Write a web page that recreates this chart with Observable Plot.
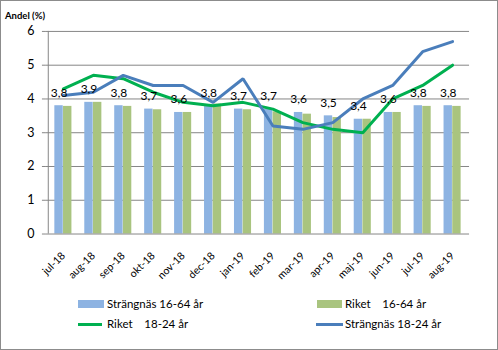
<!DOCTYPE html>
<html><head><meta charset="utf-8">
<script src="https://cdn.jsdelivr.net/npm/d3@7"></script>
<script src="https://cdn.jsdelivr.net/npm/@observablehq/plot@0.6"></script>
<style>
body{margin:0;background:#fff;}
#wrap{position:relative;width:496px;height:348px;border:1px solid #8c8c8c;font-family:Lato,"Liberation Sans",sans-serif;overflow:hidden;background:#fff;}
#title{position:absolute;left:4px;top:9px;font-size:9.5px;font-weight:bold;color:#000;}
#chart{position:absolute;left:-1px;top:-1px;}
.leg{position:absolute;font-size:11.5px;color:#000;white-space:pre;line-height:12px;}
.sw{position:absolute;}
</style></head><body>
<div id="wrap">
<div id="chart"></div>
<div id="title">Andel (%)</div>
<div id="legend"></div>
</div>
<script>
const months = ["jul-18","aug-18","sep-18","okt-18","nov-18","dec-18","jan-19","feb-19","mar-19","apr-19","maj-19","jun-19","jul-19","aug-19"];
const strangnas1664 = [3.8,3.9,3.8,3.7,3.6,3.8,3.7,3.7,3.6,3.5,3.4,3.6,3.8,3.8];
const riket1664 = [3.78,3.9,3.78,3.68,3.6,3.85,3.68,3.62,3.55,3.45,3.4,3.6,3.78,3.78];
const riket1824 = [4.3,4.7,4.6,4.2,3.9,3.8,3.9,3.7,3.3,3.1,3.0,4.0,4.4,5.0];
const strangnas1824 = [4.1,4.2,4.7,4.4,4.4,3.9,4.6,3.2,3.1,3.3,4.0,4.4,5.4,5.7];
const yTicks = [0,1,2,3,4,5,6];
const seriesNames = ["Strängnäs 16-64 år","Riket    16-64 år","Riket    18-24 år","Strängnäs 18-24 år"];
const colors = {barBlue:"#8db3e2", barGreen:"#a9c47f", lineGreen:"#00b050", lineBlue:"#4a7ebb"};

const rows = months.map((m,i)=>({m, s1:strangnas1664[i], r1:riket1664[i], r2:riket1824[i], s2:strangnas1824[i], lab:String(strangnas1664[i]).replace(".",",")}));

const W=498, H=290, mL=46, mR=28;
const bw=(W-mL-mR)/months.length;
const barW=8.7;

const plot = Plot.plot({
  width:W, height:H,
  marginLeft:mL, marginRight:mR, marginTop:31, marginBottom:56,
  style:{fontFamily:"Lato, 'Liberation Sans', sans-serif", fontSize:"11px", color:"#000", background:"transparent"},
  x:{type:"band", domain:months, padding:0, label:null},
  y:{domain:[0,6], label:null},
  marks:[
    Plot.gridY(yTicks.slice(1),{stroke:"#868686", strokeOpacity:1, strokeWidth:1}),
    Plot.barY(rows,{x:"m", y:"s1", fill:colors.barBlue, insetLeft:bw/2-barW, insetRight:bw/2}),
    Plot.barY(rows,{x:"m", y:"r1", fill:colors.barGreen, insetLeft:bw/2, insetRight:bw/2-barW}),
    Plot.line(rows,{x:"m", y:"r2", stroke:colors.lineGreen, strokeWidth:3, strokeLinejoin:"miter"}),
    Plot.line(rows,{x:"m", y:"s2", stroke:colors.lineBlue, strokeWidth:3, strokeLinejoin:"miter"}),
    Plot.text(rows,{x:"m", y:"s1", text:"lab", dx:-barW/2, dy:-13, fontSize:12, fill:"#000"}),
    Plot.ruleY([0],{stroke:"#868686"}),
    Plot.ruleX([months[0]],{x:()=>months[0], dx:-bw/2, stroke:"#868686", y1:0, y2:6}),
    Plot.axisY({ticks:yTicks, tickFormat:d=>String(d), tickSize:4, tickPadding:8, stroke:"#868686", fontSize:12.5, label:null}),
    Plot.axisX({tickSize:0, tickRotate:-45, tickPadding:20, fontSize:10.5, label:null})
  ]
});
document.getElementById("chart").appendChild(plot);

// legend
const leg = document.getElementById("legend");
const items = [
  {x:77, y:299, w:26, h:8, type:"rect", color:colors.barBlue, tx:106, ty:297, t:seriesNames[0]},
  {x:316, y:299, w:25, h:8, type:"rect", color:colors.barGreen, tx:344, ty:297, t:seriesNames[1]},
  {x:77, y:322, w:24, h:3, type:"line", color:colors.lineGreen, tx:106, ty:317, t:seriesNames[2]},
  {x:315, y:322, w:27, h:3, type:"line", color:colors.lineBlue, tx:344, ty:317, t:seriesNames[3]}
];
for (const it of items){
  const s=document.createElement("div");
  s.className="sw";
  s.style.cssText=`left:${it.x}px;top:${it.y}px;width:${it.w}px;height:${it.h}px;background:${it.color};`;
  leg.appendChild(s);
  const t=document.createElement("div");
  t.className="leg";
  t.style.left=it.tx+"px"; t.style.top=it.ty+"px";
  t.textContent=it.t;
  leg.appendChild(t);
}
</script>
</body></html>
